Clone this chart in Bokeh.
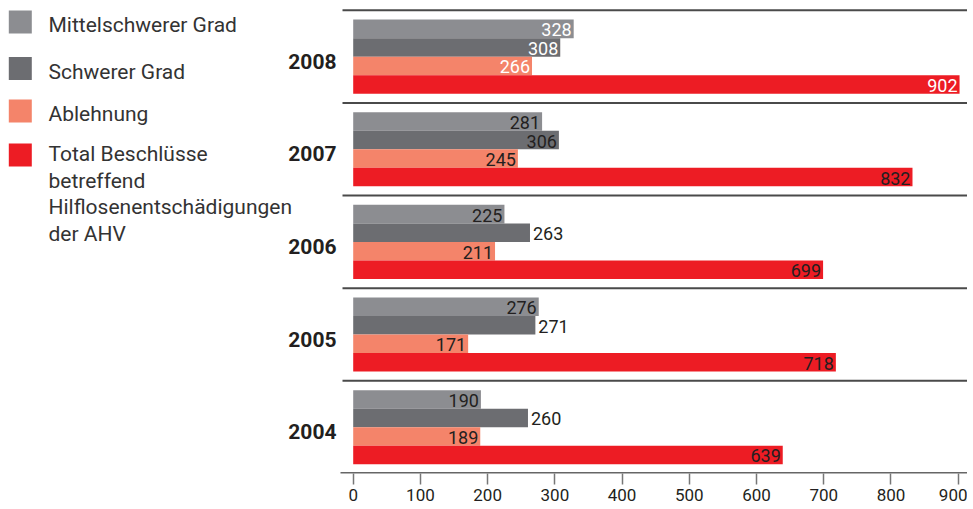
from bokeh.plotting import figure
from bokeh.models import ColumnDataSource, Range1d, FixedTicker
from bokeh.core.properties import value
from bokeh.embed import file_html
from bokeh.resources import INLINE

# ---------------- data ----------------
years = ["2004", "2005", "2006", "2007", "2008"]
series_names = ["Mittelschwerer Grad", "Schwerer Grad", "Ablehnung",
                "Total Beschlüsse betreffend Hilflosenentschädigungen der AHV"]
mittelschwer = [190, 276, 225, 281, 328]
schwer = [260, 271, 263, 306, 308]
ablehnung = [189, 171, 211, 245, 266]
total = [639, 718, 699, 832, 902]
x_ticks = [0, 100, 200, 300, 400, 500, 600, 700, 800, 900]
legend_lines = [["Mittelschwerer Grad"], ["Schwerer Grad"], ["Ablehnung"],
                ["Total Beschlüsse", "betreffend", "Hilflosenentschädigungen", "der AHV"]]

# ---------------- style / layout ----------------
colors = ["#8c8d91", "#6c6d71", "#f4846a", "#ed1c24"]
offsets = [0.3, 0.1, -0.1, -0.3]
BAR_H = 0.2
DARK = "#231f20"
FONT = "Roboto"
white_label_years = {"2008"}
outside_labels = {(1, "2004"), (1, "2005"), (1, "2006")}

W = 967            # frame width in px
H = 473            # frame height in px
X0_PX = 352.7      # pixel of value 0
PX_PER_UNIT = 605.0 / 900.0
PX_PER_GROUP = 92.63

x_start = -X0_PX / PX_PER_UNIT
x_end = (W - X0_PX) / PX_PER_UNIT
y_start = -0.5
y_end = y_start + H / PX_PER_GROUP


def X(px):
    return x_start + px / PX_PER_UNIT


def Y(py):
    return y_end - py / PX_PER_GROUP


p = figure(frame_width=W, frame_height=H,
           min_border_left=0, min_border_right=0, min_border_top=0, min_border_bottom=0,
           x_range=Range1d(x_start, x_end), y_range=Range1d(y_start, y_end),
           output_backend="svg", toolbar_location=None)
p.background_fill_color = "white"
p.border_fill_color = "white"
p.outline_line_color = None
p.xgrid.visible = False
p.ygrid.visible = False
p.yaxis.visible = False

# group separators and axis line
n = len(years)
p.segment(x0=[X(342)] * n, x1=[X(W)] * n, y0=[i + 0.5 for i in range(n)],
          y1=[i + 0.5 for i in range(n)], line_color="#4a4a4a", line_width=2)
p.segment(x0=[X(340)], x1=[X(W)], y0=[y_start + 0.5 / PX_PER_GROUP],
          y1=[y_start + 0.5 / PX_PER_GROUP], line_color="#333333", line_width=1.5)

all_series = [mittelschwer, schwer, ablehnung, total]
for k, vals in enumerate(all_series):
    ys = [i + offsets[k] for i in range(n)]
    src = ColumnDataSource(dict(y=ys, right=vals, year=years))
    p.hbar(y="y", left=0, right="right", height=BAR_H, source=src,
           fill_color=colors[k], line_color=None)

    in_d = dict(x=[], y=[], t=[], c=[])
    out_d = dict(x=[], y=[], t=[], c=[])
    for i, (yr, v) in enumerate(zip(years, vals)):
        d = out_d if (k, yr) in outside_labels else in_d
        d["x"].append(v)
        d["y"].append(ys[i])
        d["t"].append(str(v))
        d["c"].append("white" if yr in white_label_years else DARK)
    p.text(x="x", y="y", text="t", text_color="c", source=ColumnDataSource(in_d),
           text_align="right", text_baseline="middle", x_offset=-2, y_offset=1,
           text_font=value(FONT), text_font_size="18px")
    p.text(x="x", y="y", text="t", text_color="c", source=ColumnDataSource(out_d),
           text_align="left", text_baseline="middle", x_offset=3, y_offset=1,
           text_font=value(FONT), text_font_size="18px")

# year labels
p.text(x=[X(336)] * n, y=[i - 0.05 for i in range(n)], text=years,
       text_align="right", text_baseline="middle", text_color=DARK,
       text_font=value(FONT), text_font_style="bold", text_font_size="21px")

# x axis
p.xaxis.ticker = FixedTicker(ticks=x_ticks)
p.xaxis.axis_line_color = None
p.xaxis.major_tick_line_color = "#777777"
p.xaxis.major_tick_line_width = 1.5
p.xaxis.major_tick_in = 0
p.xaxis.major_tick_out = 11
p.xaxis.minor_tick_line_color = None
p.xaxis.major_label_standoff = 4
p.xaxis.major_label_text_font = FONT
p.xaxis.major_label_text_font_size = "17px"
p.xaxis.major_label_text_color = DARK

# legend
sq_tops = [10, 56.5, 99, 143]
line_centers = [[24], [71], [113], [153, 180, 206.5, 233]]
p.quad(left=[X(8.3)] * 4, right=[X(31.3)] * 4,
       top=[Y(t) for t in sq_tops], bottom=[Y(t + 23) for t in sq_tops],
       fill_color=colors, line_color=None)
lx, ly, lt = [], [], []
for k in range(len(series_names)):
    for line, c in zip(legend_lines[k], line_centers[k]):
        lx.append(X(48))
        ly.append(Y(c))
        lt.append(line)
p.text(x=lx, y=ly, text=lt, text_align="left", text_baseline="middle",
       text_color="#333333", text_font=value(FONT), text_font_size="21px")

open("out.html", "w").write(file_html(p, INLINE))
